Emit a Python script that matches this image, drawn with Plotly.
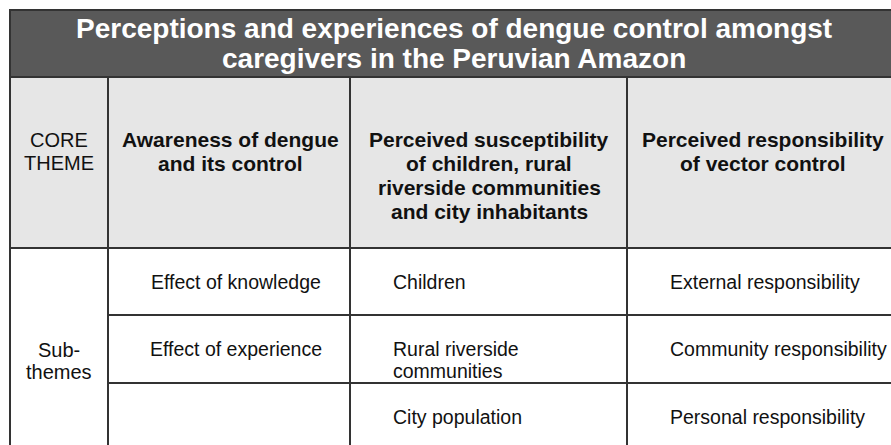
import plotly.graph_objects as go

title_lines = ["Perceptions and experiences of dengue control amongst",
               "caregivers in the Peruvian Amazon"]
core_label = ["CORE", "THEME"]
sub_label = ["Sub-", "themes"]
theme_headers = [
    ["Awareness of dengue", "and its control"],
    ["Perceived susceptibility", "of children, rural", "riverside communities", "and city inhabitants"],
    ["Perceived responsibility", "of vector control"],
]
subthemes = [
    [["Effect of knowledge"], ["Effect of experience"], []],
    [["Children"], ["Rural riverside", "communities"], ["City population"]],
    [["External responsibility"], ["Community responsibility"], ["Personal responsibility"]],
]

# layout constants (page pixels)
W, H = 891, 445
col_x = [10, 108, 350, 627, 905]
row_y = [10, 77, 248, 315, 383, 455]
line_col = "#333333"
title_bg = "#595959"
head_bg = "#e6e6e6"
FONT = "Liberation Sans, Arial, sans-serif"

fig = go.Figure()
shapes = []
ann = []

shapes.append(dict(type="rect", x0=col_x[0], x1=col_x[-1], y0=row_y[0], y1=row_y[1],
                   fillcolor=title_bg, line=dict(color=line_col, width=2), layer="below"))
shapes.append(dict(type="rect", x0=col_x[0], x1=col_x[-1], y0=row_y[1], y1=row_y[2],
                   fillcolor=head_bg, line=dict(color=line_col, width=2), layer="below"))
shapes.append(dict(type="rect", x0=col_x[0], x1=col_x[-1], y0=row_y[2], y1=row_y[-1],
                   fillcolor="white", line=dict(color=line_col, width=2), layer="below"))
for x in col_x[1:-1]:
    shapes.append(dict(type="line", x0=x, x1=x, y0=row_y[1], y1=row_y[-1],
                       line=dict(color=line_col, width=2)))
for y in row_y[3:5]:
    shapes.append(dict(type="line", x0=col_x[1], x1=col_x[-1], y0=y, y1=y,
                       line=dict(color=line_col, width=2)))


def lines_ann(lines, x, yc, size, bold=False, color="#111111",
              xanchor="center", lh=22, family=FONT):
    n = len(lines)
    for i, t in enumerate(lines):
        y = yc + (i - (n - 1) / 2) * lh
        txt = f"<b>{t}</b>" if bold else t
        ann.append(dict(x=x, y=y, text=txt, showarrow=False, xanchor=xanchor,
                        yanchor="middle", align="left",
                        font=dict(family=family, size=size, color=color)))


lines_ann(title_lines, 454, 43, 28, bold=True, color="white", lh=30)
lines_ann(core_label, (col_x[0] + col_x[1]) / 2, 151.5, 20, lh=23)
hdr_x = [230, 489, 763]
hdr_y = [151.5, 175.5, 151.5]
for i, h in enumerate(theme_headers):
    lines_ann(h, hdr_x[i], hdr_y[i], 21, bold=True, lh=24)
lines_ann(sub_label, (col_x[0] + col_x[1]) / 2, 361, 20, lh=22)

cell_x = [236, 391, 668]
anchors = ["center", "left", "left"]
row_c = [282, 349, 417]
for c, col in enumerate(subthemes):
    for r, lines in enumerate(col):
        if not lines:
            continue
        yc = row_c[r] + (len(lines) - 1) * 11
        lines_ann(lines, cell_x[c], yc, 19.5, xanchor=anchors[c], lh=22)

fig.update_layout(
    width=W, height=H, margin=dict(l=0, r=0, t=0, b=0),
    paper_bgcolor="white", plot_bgcolor="white",
    xaxis=dict(range=[0, W], visible=False, fixedrange=True),
    yaxis=dict(range=[H, 0], visible=False, fixedrange=True),
    shapes=shapes, annotations=ann, showlegend=False,
)
fig.write_html(
    "out.html",
    config={"displayModeBar": False},
    post_script="document.body.style.margin='0';document.body.style.overflow='hidden';",
)
